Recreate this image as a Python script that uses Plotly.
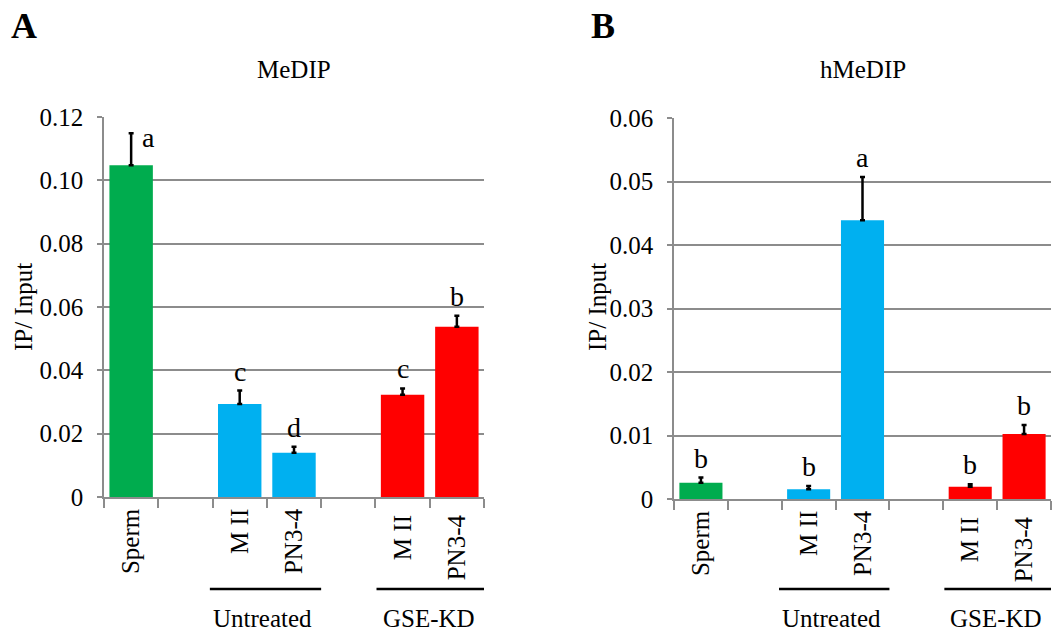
import plotly.graph_objects as go

# ---------------- data ----------------
categories = ["Sperm", " ", "M II", "PN3-4", "  ", "M II ", "PN3-4 "]
bar_colors = ["#00AC4E", "#FFFFFF", "#00B0F0", "#00B0F0", "#FFFFFF", "#FF0000", "#FF0000"]

medip_values = [0.1048, None, 0.0294, 0.0140, None, 0.0323, 0.0538]
medip_errors = [0.0101, 0, 0.0042, 0.0019, 0, 0.0020, 0.0034]
medip_letters = ["a", "", "c", "d", "", "c", "b"]

hmedip_values = [0.00257, None, 0.00153, 0.0439, None, 0.00194, 0.01024]
hmedip_errors = [0.0008, 0, 0.0005, 0.0068, 0, 0.0004, 0.0014]
hmedip_letters = ["b", "", "b", "a", "", "b", "b"]

medip_ticks = [0, 0.02, 0.04, 0.06, 0.08, 0.10, 0.12]
medip_ticktext = ["0", "0.02", "0.04", "0.06", "0.08", "0.10", "0.12"]
hmedip_ticks = [0, 0.01, 0.02, 0.03, 0.04, 0.05, 0.06]
hmedip_ticktext = ["0", "0.01", "0.02", "0.03", "0.04", "0.05", "0.06"]

groups = ["Untreated", "GSE-KD"]
panel_titles = ["MeDIP", "hMeDIP"]
panel_letters = ["A", "B"]
y_title = "IP/ Input"

# ---------------- layout helpers ----------------
W, H = 1052, 634
FONT = "Liberation Serif, Times New Roman, serif"
FS = 25
FS_LETTER = 28
GRID = "#8c8c8c"


def px_x(p):
    return p / W


def px_y(p):
    return 1 - p / H


fig = go.Figure()

panels = [
    dict(vals=medip_values, errs=medip_errors, letters=medip_letters,
         ticks=medip_ticks, ticktext=medip_ticktext, ymax=0.12,
         xdom=(104, 484), ydom=(117, 497), xa="x", ya="y"),
    dict(vals=hmedip_values, errs=hmedip_errors, letters=hmedip_letters,
         ticks=hmedip_ticks, ticktext=hmedip_ticktext, ymax=0.06,
         xdom=(674, 1051), ydom=(118, 499), xa="x2", ya="y2"),
]

for i, p in enumerate(panels):
    fig.add_trace(go.Bar(
        x=categories, y=p["vals"],
        marker=dict(color=bar_colors, line=dict(width=0)),
        width=0.8,
        error_y=dict(type="data", array=p["errs"], symmetric=False,
                     arrayminus=[0] * len(categories),
                     color="black", thickness=2.5, width=2.5),
        xaxis=p["xa"], yaxis=p["ya"], showlegend=False,
        hoverinfo="x+y",
    ))
    sfx = "" if i == 0 else "2"
    fig.update_layout(**{
        "xaxis" + sfx: dict(
            domain=[px_x(p["xdom"][0]), px_x(p["xdom"][1])],
            anchor="y" + sfx, type="category",
            categoryorder="array", categoryarray=categories,
            range=[-0.5, 6.5], tickson="boundaries",
            ticks="outside", ticklen=9, tickwidth=1.5, tickcolor=GRID,
            showline=True, linecolor=GRID, linewidth=1.5,
            showgrid=False, tickangle=-90, automargin=False,
            tickfont=dict(family=FONT, size=FS, color="black"),
            fixedrange=True,
        ),
        "yaxis" + sfx: dict(
            domain=[px_y(p["ydom"][1]), px_y(p["ydom"][0])],
            anchor="x" + sfx, range=[0, p["ymax"]],
            tickmode="array", tickvals=p["ticks"], ticktext=p["ticktext"],
            ticks="outside", ticklen=5, tickwidth=1.5, tickcolor=GRID,
            showline=True, linecolor=GRID, linewidth=1.5,
            showgrid=True, gridcolor=GRID, gridwidth=1.5,
            zeroline=False, ticklabelstandoff=9, automargin=False,
            tickfont=dict(family=FONT, size=FS, color="black"),
            fixedrange=True,
        ),
    })

    # significance letters
    for j, (v, e, lt) in enumerate(zip(p["vals"], p["errs"], p["letters"])):
        if v is None or not lt:
            continue
        top = v + e
        if i == 0 and j == 0:
            fig.add_annotation(x=categories[j], y=top, xref=p["xa"], yref=p["ya"],
                               text=lt, showarrow=False, xanchor="center",
                               yanchor="top", xshift=17, yshift=13,
                               font=dict(family=FONT, size=FS_LETTER, color="black"))
        else:
            fig.add_annotation(x=categories[j], y=top, xref=p["xa"], yref=p["ya"],
                               text=lt, showarrow=False, xanchor="center",
                               yanchor="bottom", yshift=2,
                               font=dict(family=FONT, size=FS_LETTER, color="black"))

    # group lines + labels
    for g, (x0, x1) in zip(groups, [(1.45, 3.5), (4.52, 6.55)]):
        fig.add_shape(type="line", xref=p["xa"], yref="paper",
                      x0=x0, x1=x1, y0=px_y(589), y1=px_y(589),
                      line=dict(color="black", width=2.5))
        fig.add_annotation(x=(x0 + x1) / 2 - 0.05, y=px_y(633), xref=p["xa"], yref="paper",
                           text=g, showarrow=False, xanchor="center", yanchor="bottom",
                           borderpad=0,
                           font=dict(family=FONT, size=FS, color="black"))

    # panel title
    cx = (p["xdom"][0] + p["xdom"][1]) / 2
    fig.add_annotation(x=px_x(cx), y=px_y(70), xref="paper", yref="paper",
                       text=panel_titles[i], showarrow=False,
                       xanchor="center", yanchor="middle",
                       font=dict(family=FONT, size=FS, color="black"))
    # y-axis title
    yx = 23 if i == 0 else 597
    fig.add_annotation(x=px_x(yx), y=px_y(307), xref="paper", yref="paper",
                       text=y_title, showarrow=False, textangle=-90,
                       xanchor="center", yanchor="middle",
                       font=dict(family=FONT, size=FS, color="black"))
    # panel letter
    lx = 9 if i == 0 else 589
    fig.add_annotation(x=px_x(lx), y=px_y(26), xref="paper", yref="paper",
                       text="<b>" + panel_letters[i] + "</b>", showarrow=False,
                       xanchor="left", yanchor="middle",
                       font=dict(family=FONT, size=36, color="black"))

fig.update_layout(
    width=W, height=H,
    margin=dict(l=0, r=0, t=0, b=0, autoexpand=False),
    paper_bgcolor="white", plot_bgcolor="white",
    bargap=0.2,
    font=dict(family=FONT, size=FS, color="black"),
)

fig.write_html("out.html")
